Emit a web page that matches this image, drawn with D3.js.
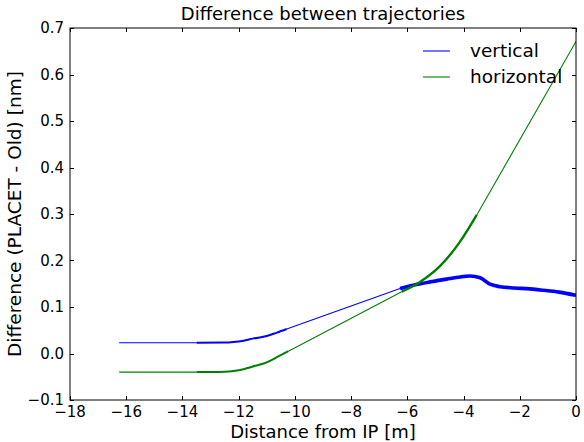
<!DOCTYPE html>
<html>
<head>
<meta charset="utf-8">
<script src="https://cdn.jsdelivr.net/npm/d3@7/dist/d3.min.js"></script>
<style>
  html, body { margin: 0; padding: 0; background: #fff; }
  svg { display: block; font-family: "DejaVu Sans", sans-serif; }
</style>
</head>
<body>
<svg id="chart" width="584" height="442"></svg>
<script>
// ---- data ----
const titleText = "Difference between trajectories";
const xLabelText = "Distance from IP [m]";
const yLabelText = "Difference (PLACET - Old) [nm]";
const xTicks = [-18, -16, -14, -12, -10, -8, -6, -4, -2, 0];
const yTicks = [-0.1, 0.0, 0.1, 0.2, 0.3, 0.4, 0.5, 0.6, 0.7];
const seriesNames = ["vertical", "horizontal"];

const verticalX = [-16.25, -13.5, -12.5, -12.19, -11.83, -11.5, -11.0, -10.64, -10.29,
                   -6.26, -5.79, -5.19, -4.60, -4.2, -3.77, -3.41, -3.06, -2.70, -2.2, -1.64, -1.27, -0.6, 0];
const verticalY = [0.023, 0.023, 0.0235, 0.0247, 0.0275, 0.032, 0.0376, 0.045, 0.0527,
                   0.140, 0.147, 0.154, 0.160, 0.164, 0.1667, 0.163, 0.149, 0.1437, 0.141, 0.139, 0.1366, 0.132, 0.125];

const horizontalX = [-16.25, -13.5, -12.5, -12.19, -11.83, -11.5, -11.0, -10.64, -10.23,
                     -6.2, -5.55, -4.84, -4.13, -3.53, 0];
const horizontalY = [-0.040, -0.040, -0.039, -0.0376, -0.034, -0.028, -0.019, -0.008, 0.005,
                     0.133, 0.154, 0.188, 0.240, 0.298, 0.671];

// x ranges where the trajectories are densely sampled (drawn heavier)
const verticalDense = [[-13.5, -10.29], [-6.26, 0]];
const horizontalDense = [[-13.5, -10.23], [-6.2, -3.53]];

// ---- layout ----
const svg = d3.select("#chart");
const L = 70, R = 576, T = 28, B = 400;
const x = d3.scaleLinear().domain([-18, 0]).range([L, R]);
const y = d3.scaleLinear().domain([-0.1, 0.7]).range([B, T]);

const fmtX = d => (d < 0 ? "\u2212" : "") + Math.abs(d);
const fmtY = d => (d < 0 ? "\u2212" : "") + Math.abs(d).toFixed(1);

svg.append("clipPath").attr("id", "clip")
  .append("rect").attr("x", L).attr("y", T).attr("width", R - L).attr("height", B - T);

const curveLine = d3.line().x(d => x(d[0])).y(d => y(d[1])).curve(d3.curveMonotoneX);
const straightLine = d3.line().x(d => x(d[0])).y(d => y(d[1]));

function drawSeries(xs, ys, dense, color, denseWidth) {
  const pts = xs.map((v, i) => [v, ys[i]]);
  const g = svg.append("g").attr("clip-path", "url(#clip)");
  for (let i = 0; i < pts.length - 1; i++) {
    const a = pts[i], b = pts[i + 1];
    const inDense = dense.some(r => a[0] >= r[0] - 1e-9 && b[0] <= r[1] + 1e-9);
    if (!inDense) {
      g.append("path").datum([a, b]).attr("d", straightLine)
        .attr("fill", "none").attr("stroke", color).attr("stroke-width", 1.1);
    }
  }
  dense.forEach((r, k) => {
    const sub = pts.filter(p => p[0] >= r[0] - 1e-9 && p[0] <= r[1] + 1e-9);
    g.append("path").datum(sub).attr("d", curveLine)
      .attr("fill", "none").attr("stroke", color)
      .attr("stroke-width", denseWidth[k]).attr("stroke-linejoin", "round");
  });
}

drawSeries(verticalX, verticalY, verticalDense, "#0000ff", [2, 3.6]);
drawSeries(horizontalX, horizontalY, horizontalDense, "#008000", [2, 2.4]);

// ---- axes frame & ticks ----
const axG = svg.append("g");
axG.append("rect").attr("x", L).attr("y", T).attr("width", R - L).attr("height", B - T)
  .attr("fill", "none").attr("stroke", "#000").attr("stroke-width", 1);

const tl = 4;
xTicks.forEach(t => {
  const px = Math.round(x(t)) + 0.5;
  axG.append("line").attr("x1", px).attr("x2", px).attr("y1", B).attr("y2", B - tl).attr("stroke", "#000");
  axG.append("line").attr("x1", px).attr("x2", px).attr("y1", T).attr("y2", T + tl).attr("stroke", "#000");
  axG.append("text").attr("x", x(t)).attr("y", B + 17).attr("text-anchor", "middle")
    .attr("font-size", 15).text(fmtX(t));
});
yTicks.forEach(t => {
  const py = Math.round(y(t)) + 0.5;
  axG.append("line").attr("x1", L).attr("x2", L + tl).attr("y1", py).attr("y2", py).attr("stroke", "#000");
  axG.append("line").attr("x1", R).attr("x2", R - tl).attr("y1", py).attr("y2", py).attr("stroke", "#000");
  axG.append("text").attr("x", L - 6).attr("y", y(t) + 5).attr("text-anchor", "end")
    .attr("font-size", 15).text(fmtY(t));
});

// ---- titles ----
svg.append("text").attr("x", (L + R) / 2).attr("y", 20).attr("text-anchor", "middle")
  .attr("font-size", 18).text(titleText);
svg.append("text").attr("x", (L + R) / 2).attr("y", 438).attr("text-anchor", "middle")
  .attr("font-size", 18).text(xLabelText);
svg.append("text").attr("transform", `translate(21,${(T + B) / 2}) rotate(-90)`)
  .attr("text-anchor", "middle").attr("font-size", 18.5).text(yLabelText);

// ---- legend ----
const legColors = ["#0000ff", "#008000"];
seriesNames.forEach((n, i) => {
  const ly = 51 + i * 26;
  svg.append("line").attr("x1", 423).attr("x2", 450).attr("y1", ly).attr("y2", ly)
    .attr("stroke", legColors[i]).attr("stroke-width", 1.1);
  svg.append("text").attr("x", 470).attr("y", ly + 6).attr("font-size", 18.5).text(n);
});
</script>
</body>
</html>
